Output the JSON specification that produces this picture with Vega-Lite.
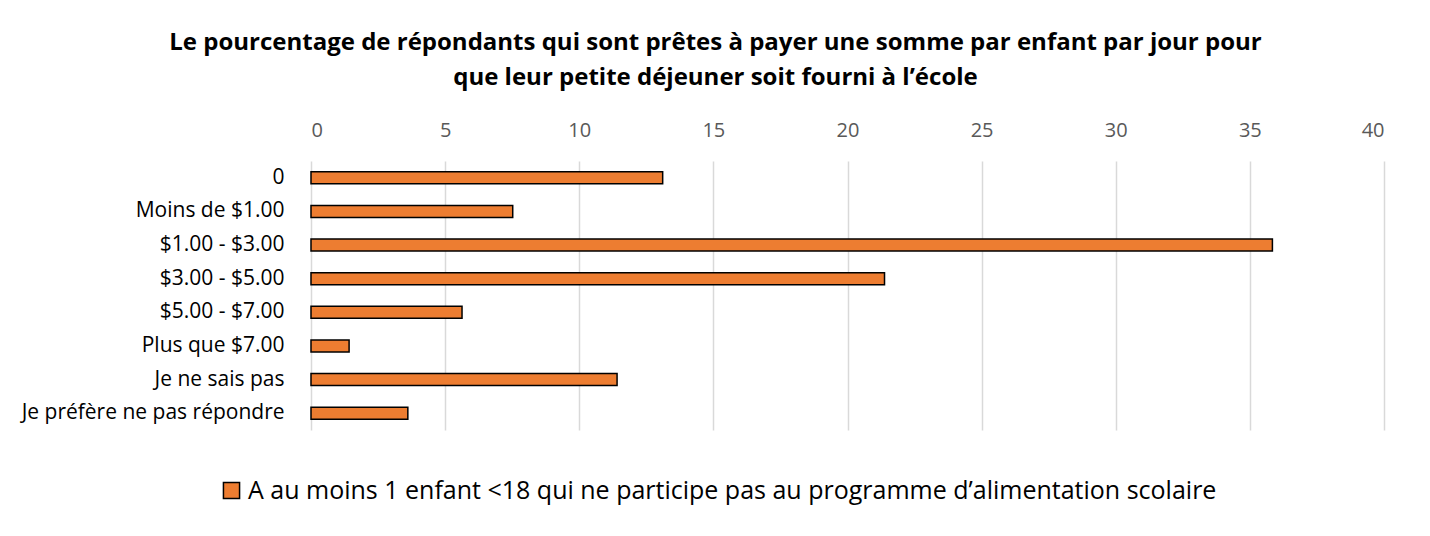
{
  "$schema": "https://vega.github.io/schema/vega-lite/v6.json",
  "autosize": "none",
  "width": 1073,
  "height": 269,
  "padding": {"left": 311, "top": 161, "right": 46, "bottom": 106},
  "background": "white",
  "title": {
    "text": ["Le pourcentage de répondants qui sont prêtes à payer une somme par enfant par jour pour", "que leur petite déjeuner soit fourni à l’école"],
    "font": "Open Sans",
    "fontSize": 24,
    "fontWeight": "bold",
    "color": "#000000",
    "anchor": "middle",
    "dx": -132,
    "offset": 30,
    "lineHeight": 35
  },
  "data": {
    "values": [
      {"categorie": "0", "pourcentage": 13.11, "serie": "A au moins 1 enfant <18 qui ne participe pas au programme d’alimentation scolaire"},
      {"categorie": "Moins de $1.00", "pourcentage": 7.52, "serie": "A au moins 1 enfant <18 qui ne participe pas au programme d’alimentation scolaire"},
      {"categorie": "$1.00 - $3.00", "pourcentage": 35.84, "serie": "A au moins 1 enfant <18 qui ne participe pas au programme d’alimentation scolaire"},
      {"categorie": "$3.00 - $5.00", "pourcentage": 21.38, "serie": "A au moins 1 enfant <18 qui ne participe pas au programme d’alimentation scolaire"},
      {"categorie": "$5.00 - $7.00", "pourcentage": 5.63, "serie": "A au moins 1 enfant <18 qui ne participe pas au programme d’alimentation scolaire"},
      {"categorie": "Plus que $7.00", "pourcentage": 1.42, "serie": "A au moins 1 enfant <18 qui ne participe pas au programme d’alimentation scolaire"},
      {"categorie": "Je ne sais pas", "pourcentage": 11.41, "serie": "A au moins 1 enfant <18 qui ne participe pas au programme d’alimentation scolaire"},
      {"categorie": "Je préfère ne pas répondre", "pourcentage": 3.61, "serie": "A au moins 1 enfant <18 qui ne participe pas au programme d’alimentation scolaire"}
    ]
  },
  "mark": {"type": "bar", "stroke": "#000000", "strokeWidth": 1.5},
  "encoding": {
    "y": {
      "field": "categorie",
      "type": "nominal",
      "sort": null,
      "scale": {"paddingInner": 0.64, "paddingOuter": 0.32},
      "axis": {
        "title": null,
        "domain": false,
        "ticks": false,
        "labelPadding": 27,
        "labelFont": "Open Sans",
        "labelFontSize": 21,
        "labelColor": "#000000",
        "labelLimit": 400
      }
    },
    "x": {
      "field": "pourcentage",
      "type": "quantitative",
      "scale": {"domain": [0, 40], "nice": false},
      "axis": {
        "orient": "top",
        "title": null,
        "values": [0, 5, 10, 15, 20, 25, 30, 35, 40],
        "domain": false,
        "ticks": false,
        "grid": true,
        "gridColor": "#d9d9d9",
        "gridWidth": 1.5,
        "labelPadding": 21,
        "labelFont": "Open Sans",
        "labelFontSize": 20,
        "labelColor": "#595959"
      }
    },
    "fill": {
      "field": "serie",
      "type": "nominal",
      "scale": {"range": ["#ED7D31"]},
      "legend": {
        "title": null,
        "orient": "none",
        "legendX": -92,
        "legendY": 317,
        "symbolType": "square",
        "symbolSize": 260,
        "symbolStrokeColor": "#000000",
        "symbolStrokeWidth": 1.5,
        "labelFont": "Open Sans",
        "labelFontSize": 25,
        "labelColor": "#000000",
        "labelLimit": 1200,
        "labelOffset": 4
      }
    }
  },
  "config": {"view": {"stroke": null}}
}
